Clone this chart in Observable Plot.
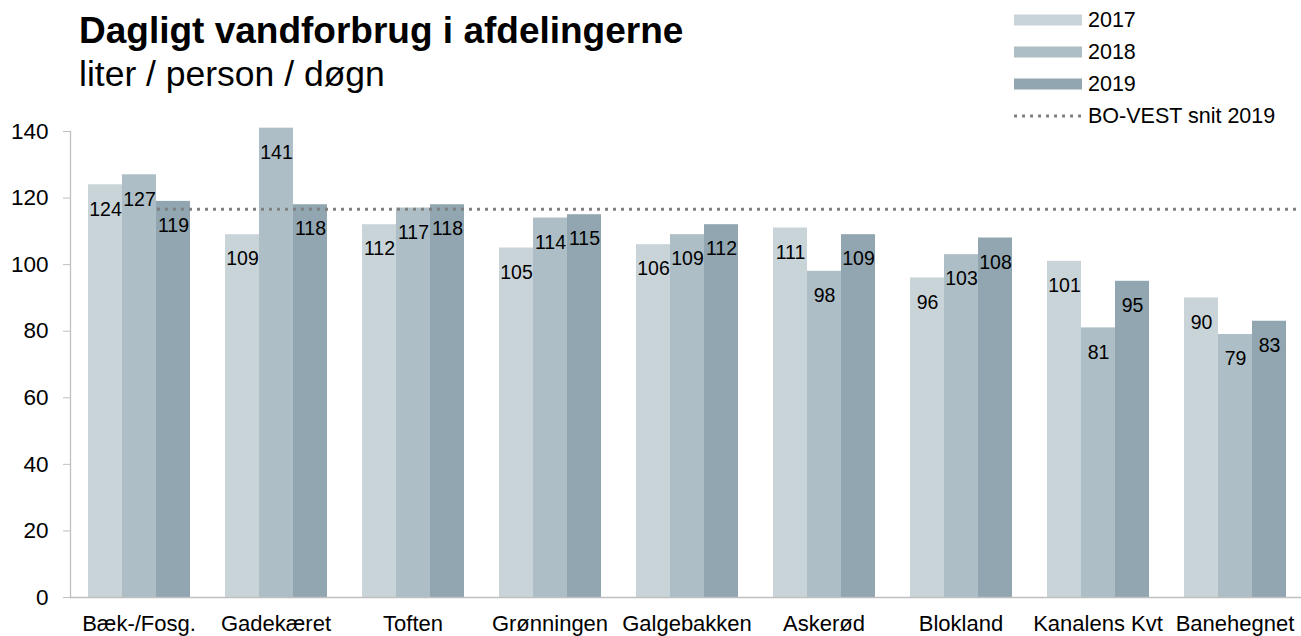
<!DOCTYPE html>
<html><head><meta charset="utf-8">
<script src="https://cdn.jsdelivr.net/npm/d3@7"></script>
<script src="https://cdn.jsdelivr.net/npm/@observablehq/plot@0.6"></script>
<style>
html,body{margin:0;padding:0;background:#fff;overflow:hidden;}
#wrap{position:relative;width:1301px;height:636px;font-family:"Liberation Sans",Arial,sans-serif;color:#000;}
#chart{position:absolute;left:0;top:0;}
#title{position:absolute;left:79px;top:12px;font-size:37px;font-weight:bold;line-height:1;white-space:nowrap;}
#subtitle{position:absolute;left:79px;top:57px;font-size:35.5px;line-height:1;white-space:nowrap;}
#legend{position:absolute;left:1013px;top:0;width:288px;height:130px;}
.item{position:absolute;left:0;height:22px;display:flex;align-items:center;white-space:nowrap;font-size:21.5px;}
.item svg{margin-right:6px;display:block;}
</style></head><body>
<div id="wrap">
<div id="chart"></div>
<div id="title">Dagligt vandforbrug i afdelingerne</div>
<div id="subtitle">liter / person / døgn</div>
<div id="legend"></div>
</div>
<script>
const categories = ["Bæk-/Fosg.","Gadekæret","Toften","Grønningen","Galgebakken","Askerød","Blokland","Kanalens Kvt","Banehegnet"];
const years = ["2017","2018","2019"];
const values2017 = [124,109,112,105,106,111,96,101,90];
const values2018 = [127,141,117,114,109,98,103,81,79];
const values2019 = [119,118,118,115,112,109,108,95,83];
const average2019 = 116.5;
const averageLabel = "BO-VEST snit 2019";
const yTicks = [0,20,40,60,80,100,120,140];
const colors = ["#c9d4d9","#adbec6","#91a6b0"];

const series = [values2017, values2018, values2019];
const rows = [];
categories.forEach((c,i)=>years.forEach((yr,j)=>rows.push({category:c, year:yr, value:series[j][i]})));

const chart = Plot.plot({
  width:1301, height:636,
  marginTop:131, marginBottom:39, marginLeft:69, marginRight:-3,
  style:{fontFamily:"'Liberation Sans', Arial, sans-serif", color:"#000", background:"transparent", overflow:"visible"},
  fx:{domain:categories, padding:0, label:null},
  x:{domain:years, paddingInner:0, paddingOuter:0.5, axis:null},
  y:{domain:[0,140], label:null},
  color:{domain:years, range:colors},
  marks:[
    Plot.barY(rows,{fx:"category", x:"year", y:"value", fill:"year"}),
    Plot.ruleY([0],{stroke:"#bfbfbf", strokeWidth:1.3}),
    Plot.frame({anchor:"left", facetAnchor:"left", stroke:"#bfbfbf", strokeWidth:1.3}),
    Plot.text(rows,{fx:"category", x:"year", y:"value", text:"value", dy:24.5, fontSize:19.5, fill:"#000"}),
    Plot.axisY({ticks:yTicks, tickSize:7, tickPadding:15, fontSize:22.5, stroke:"#bfbfbf", fill:"#000", label:null}),
    Plot.axisFx({anchor:"bottom", tickSize:0, tickPadding:18, fontSize:22, fill:"#000", label:null})
  ]
});
document.getElementById("chart").appendChild(chart);

// average line drawn once across the groups, positioned with the plot's own scales
const fxS = chart.scale("fx"), xS = chart.scale("x"), yS = chart.scale("y");
const xStart = fxS.apply(categories[0]) + xS.apply(years[0]);
const xEnd = fxS.apply(categories[categories.length-1]) + xS.apply(years[years.length-1]) + xS.bandwidth;
d3.select(chart).insert("line",'g[aria-label="text"]')
  .attr("x1",xStart).attr("x2",xEnd)
  .attr("y1",yS.apply(average2019)).attr("y2",yS.apply(average2019))
  .attr("stroke","#808080").attr("stroke-width",3).attr("stroke-dasharray","3,5");

// legend
const legend = d3.select("#legend");
const items = years.map((y,i)=>({label:y, color:colors[i], type:"bar"})).concat([{label:averageLabel, type:"dot"}]);
items.forEach((it,i)=>{
  const div = legend.append("div").attr("class","item").style("top",(9 + i*32)+"px");
  const s = div.append("svg").attr("width",69).attr("height",12);
  if (it.type==="bar") s.append("rect").attr("x",1).attr("y",0.5).attr("width",68).attr("height",11).attr("fill",it.color);
  else s.append("line").attr("x1",1).attr("x2",69).attr("y1",6).attr("y2",6).attr("stroke","#808080").attr("stroke-width",3).attr("stroke-dasharray","3,5");
  div.append("span").text(it.label);
});
</script>
</body></html>
